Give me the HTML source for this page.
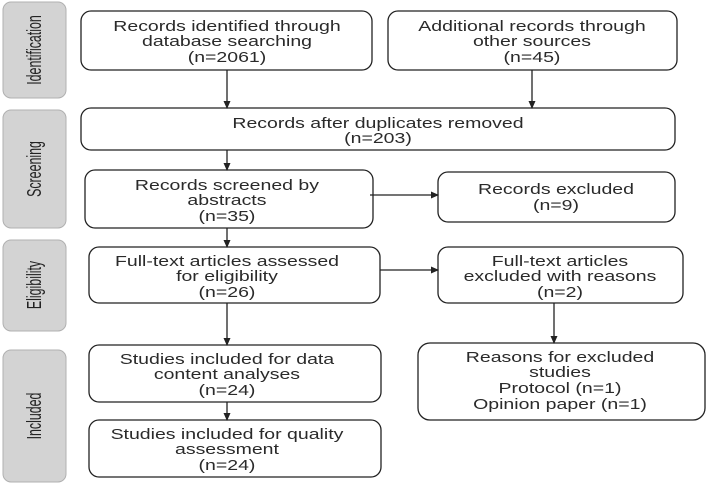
<!DOCTYPE html>
<html><head><meta charset="utf-8"><style>
html,body{margin:0;padding:0;background:#fff;}
svg{display:block;}
.b{fill:#fff;stroke:#222;stroke-width:1.3;}
.s{fill:#d3d3d3;stroke:#b0b0b0;stroke-width:1;}
text{font-family:"Liberation Sans",sans-serif;font-size:15px;fill:#2a2a2a;text-anchor:middle;}
.m text{transform-box:fill-box;transform-origin:center;transform:scaleX(1.3);}
.l{fill:#222;stroke:#222;stroke-width:1.3;}
</style></head><body>
<svg width="709" height="487" viewBox="0 0 709 487">
<defs><marker id="a" markerWidth="8" markerHeight="8" refX="7" refY="4" orient="auto" markerUnits="userSpaceOnUse"><path d="M0,0.5 L8,4 L0,7.5z" fill="#222"/></marker></defs>
<rect class="s" x="3" y="2" width="63" height="96" rx="8"/>
<rect class="s" x="3" y="110" width="63" height="118" rx="8"/>
<rect class="s" x="3" y="240" width="63" height="91" rx="8"/>
<rect class="s" x="3" y="350" width="63" height="132" rx="8"/>
<g style="font-size:20px">
<text style="font-size:20px;fill:#222" transform="translate(41,50) rotate(-90) scale(0.62,1)">Identification</text>
<text style="font-size:20px;fill:#222" transform="translate(41,169) rotate(-90) scale(0.62,1)">Screening</text>
<text style="font-size:20px;fill:#222" transform="translate(41,285) rotate(-90) scale(0.62,1)">Eligibility</text>
<text style="font-size:20px;fill:#222" transform="translate(41,416) rotate(-90) scale(0.62,1)">Included</text>
</g>
<rect class="b" x="81" y="11" width="291" height="59" rx="10"/>
<rect class="b" x="388" y="11" width="289" height="59" rx="10"/>
<rect class="b" x="81" y="108" width="594" height="42" rx="10"/>
<rect class="b" x="85" y="170" width="288" height="58" rx="10"/>
<rect class="b" x="438" y="172" width="237" height="50" rx="10"/>
<rect class="b" x="89" y="247" width="291" height="56" rx="10"/>
<rect class="b" x="438" y="247" width="245" height="56" rx="10"/>
<rect class="b" x="89" y="345" width="292" height="57" rx="10"/>
<rect class="b" x="89" y="420" width="292" height="57" rx="10"/>
<rect class="b" x="418" y="343" width="287" height="77" rx="12"/>
<g class="m">
<text x="227" y="31">Records identified through</text>
<text x="227" y="46">database searching</text>
<text x="227" y="62">(n=2061)</text>
<text x="532" y="31">Additional records through</text>
<text x="532" y="46">other sources</text>
<text x="532" y="62">(n=45)</text>
<text x="378" y="128">Records after duplicates removed</text>
<text x="378" y="143">(n=203)</text>
<text x="227" y="190">Records screened by</text>
<text x="227" y="205">abstracts</text>
<text x="227" y="221">(n=35)</text>
<text x="556" y="194">Records excluded</text>
<text x="556" y="210">(n=9)</text>
<text x="227" y="266">Full-text articles assessed</text>
<text x="227" y="281">for eligibility</text>
<text x="227" y="297">(n=26)</text>
<text x="560" y="266">Full-text articles</text>
<text x="560" y="281">excluded with reasons</text>
<text x="560" y="297">(n=2)</text>
<text x="227" y="364">Studies included for data</text>
<text x="227" y="379">content analyses</text>
<text x="227" y="395">(n=24)</text>
<text x="227" y="439">Studies included for quality</text>
<text x="227" y="454">assessment</text>
<text x="227" y="470">(n=24)</text>
<text x="560" y="362">Reasons for excluded</text>
<text x="560" y="377">studies</text>
<text x="560" y="393">Protocol (n=1)</text>
<text x="560" y="409">Opinion paper (n=1)</text>
</g>
<g class="l">
<line x1="227" y1="70" x2="227" y2="108" marker-end="url(#a)"/>
<line x1="532" y1="70" x2="532" y2="108" marker-end="url(#a)"/>
<line x1="227" y1="150" x2="227" y2="170" marker-end="url(#a)"/>
<line x1="227" y1="228" x2="227" y2="247" marker-end="url(#a)"/>
<line x1="227" y1="303" x2="227" y2="345" marker-end="url(#a)"/>
<line x1="227" y1="402" x2="227" y2="420" marker-end="url(#a)"/>
<line x1="554" y1="303" x2="554" y2="343" marker-end="url(#a)"/>
<line x1="370" y1="195" x2="438" y2="195" marker-end="url(#a)"/>
<line x1="380" y1="270" x2="438" y2="270" marker-end="url(#a)"/>
</g>
</svg>
</body></html>
